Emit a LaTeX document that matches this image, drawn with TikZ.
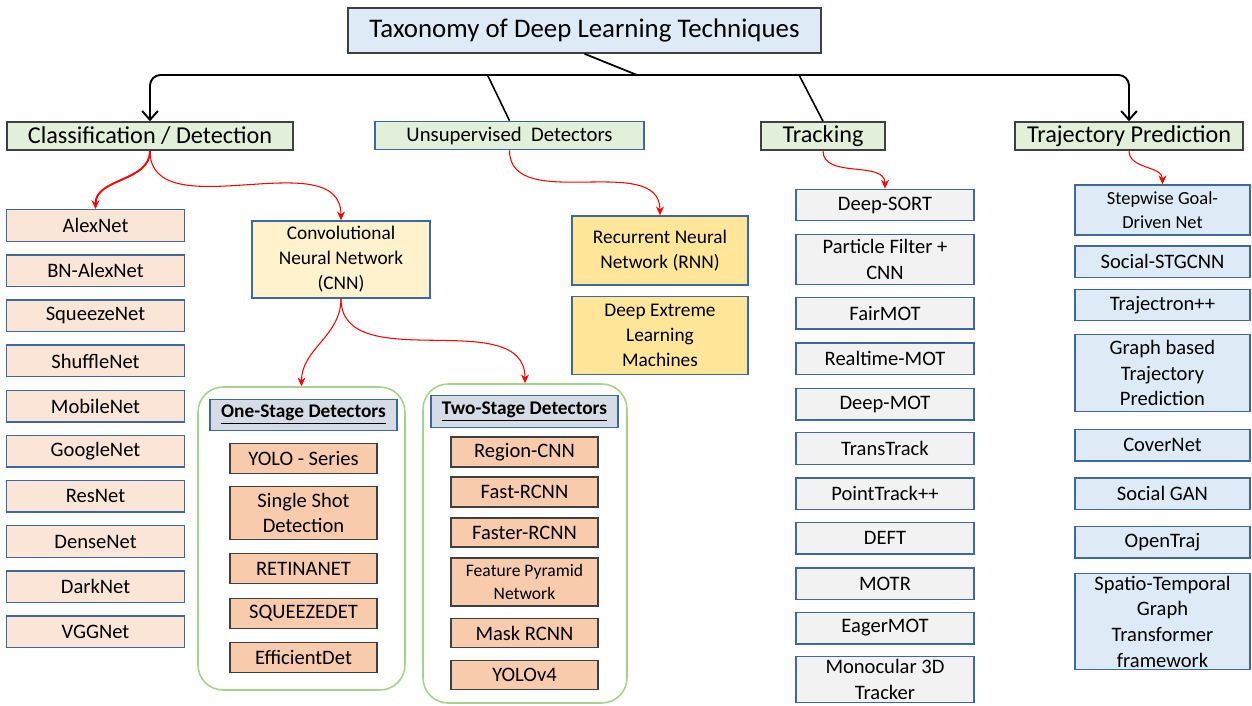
\documentclass[tikz,border=0pt]{standalone}
\usepackage{fontspec}
\setmainfont{Carlito}
\usepackage{xcolor}
\usepackage{tikz}
\usetikzlibrary{positioning, arrows.meta, calc}
\definecolor{titleblue}{HTML}{DEEBF7}
\definecolor{headgreen}{HTML}{E2EFDA}
\definecolor{peach}{HTML}{FBE5D6}
\definecolor{salmon}{HTML}{F8CBAD}
\definecolor{cream}{HTML}{FFF2CC}
\definecolor{gold}{HTML}{FFE699}
\definecolor{greyfill}{HTML}{F2F2F2}
\definecolor{slate}{HTML}{D6DCE5}
\definecolor{edgeblue}{HTML}{41679F}
\definecolor{edgedark}{HTML}{404040}
\definecolor{groupgreen}{HTML}{A9D18E}
\newcommand{\titlefont}{\fontsize{15.3}{18}\selectfont}
\newcommand{\headingfont}{\fontsize{13.8}{16}\selectfont}
\newcommand{\listfont}{\fontsize{11.7}{14.6}\selectfont}
\newcommand{\groupfont}{\fontsize{11}{12}\selectfont\bfseries}

\begin{document}
\begin{tikzpicture}[
    x=0.02cm, y=-0.02cm,
    >={Stealth[length=5pt, width=4.5pt]},
    titlebox/.style={draw=edgedark, fill=titleblue, line width=0.9pt, minimum width=9.46cm, minimum height=0.9cm, font=\titlefont},
    headbox/.style={draw=#1, fill=headgreen, line width=0.9pt, minimum height=0.56cm, inner sep=1pt, font=\headingfont},
    netbox/.style={draw=edgeblue, fill=#1, line width=0.8pt, minimum width=3.56cm, minimum height=0.63cm, align=center, inner sep=1pt, font=\listfont},
    detbox/.style={draw=edgedark, fill=salmon, line width=0.8pt, minimum width=2.94cm, minimum height=0.6cm, align=center, inner sep=1pt, font=\listfont},
    grouptitle/.style={draw=edgeblue, fill=slate, line width=0.8pt, minimum width=3.74cm, minimum height=0.63cm, font=\groupfont},
    groupbox/.style={draw=groupgreen, line width=0.9pt, rounded corners=0.5cm},
    trunk/.style={-{Straight Barb[length=5pt, width=9pt]}, line width=1.1pt, rounded corners=6pt},
    branch/.style={->, red, line width=0.6pt}
]
\useasboundingbox (0,0) rectangle (1252,706);

% Title and bus
\node[titlebox] (title) at (584.5,30.5) {Taxonomy of Deep Learning Techniques};
\coordinate (bus) at (637,75);

% Headings
\node[headbox=edgedark, minimum width=5.72cm] (clf) at (150,136) {Classification / Detection};
\node[headbox=edgeblue, minimum width=5.38cm, font=\fontsize{11.8}{13}\selectfont] (unsup) at (509.5,135.5) {Unsupervised\ \ Detectors};
\node[headbox=edgedark, minimum width=2.48cm] (trk) at (823,136) {Tracking};
\node[headbox=edgedark, minimum width=4.56cm] (traj) at (1129,136) {Trajectory Prediction};

% Classification networks
\node[netbox=peach] (alex) at (95.5,225.5) {AlexNet};
\node[netbox=peach, below=0.245cm of alex] (bnalex) {BN-AlexNet};
\node[netbox=peach, below=0.245cm of bnalex] (squeeze) {SqueezeNet};
\node[netbox=peach, below=0.245cm of squeeze] (shuffle) {ShuffleNet};
\node[netbox=peach, below=0.245cm of shuffle] (mobile) {MobileNet};
\node[netbox=peach, below=0.245cm of mobile] (google) {GoogleNet};
\node[netbox=peach, below=0.245cm of google] (resnet) {ResNet};
\node[netbox=peach, below=0.245cm of resnet] (dense) {DenseNet};
\node[netbox=peach, below=0.245cm of dense] (dark) {DarkNet};
\node[netbox=peach, below=0.245cm of dark] (vgg) {VGGNet};

% CNN and detector groups
\node[netbox=cream, minimum height=1.54cm, font=\fontsize{11}{14.2}\selectfont] (cnn) at (341,259.5) {Convolutional\\Neural Network\\(CNN)};
\node[groupbox, minimum width=4.14cm, minimum height=6.06cm] (onegrp) at (301.5,538.5) {};
\node[groupbox, minimum width=4.08cm, minimum height=6.38cm] (twogrp) at (525,543.5) {};

\node[grouptitle] (onetitle) at (303.5,415) {\underline{One-Stage Detectors}};
\node[detbox, below=0.23cm of onetitle] (yolo) {YOLO - Series};
\node[detbox, below=0.23cm of yolo, minimum height=1.06cm] (ssd) {Single Shot\\Detection};
\node[detbox, below=0.25cm of ssd] (retina) {RETINANET};
\node[detbox, below=0.27cm of retina] (sqzdet) {SQUEEZEDET};
\node[detbox, below=0.25cm of sqzdet] (effdet) {EfficientDet};

\node[grouptitle] (twotitle) at (524.5,411.5) {\underline{Two-Stage Detectors}};
\node[detbox, below=0.17cm of twotitle] (rcnn) {Region-CNN};
\node[detbox, below=0.17cm of rcnn] (fast) {Fast-RCNN};
\node[detbox, below=0.19cm of fast, minimum height=0.58cm] (faster) {Faster-RCNN};
\node[detbox, below=0.19cm of faster, minimum height=0.96cm, font=\fontsize{10}{13}\selectfont] (fpn) {Feature Pyramid\\Network};
\node[detbox, below=0.23cm of fpn, minimum height=0.58cm] (mask) {Mask RCNN};
\node[detbox, below=0.23cm of mask, minimum height=0.58cm] (yolofour) {YOLOv4};

% Unsupervised
\node[netbox=gold, minimum width=3.52cm, minimum height=1.38cm, font=\fontsize{11}{14.2}\selectfont] (rnn) at (660,250.5) {Recurrent Neural\\Network (RNN)};
\node[netbox=gold, minimum width=3.52cm, minimum height=1.56cm, font=\fontsize{11}{14.2}\selectfont, below=0.2cm of rnn] (delm) {Deep Extreme\\Learning\\Machines};

% Tracking
\node[netbox=greyfill] (dsort) at (885,205) {Deep-SORT};
\node[netbox=greyfill, below=0.25cm of dsort, minimum height=1.0cm] (pfilter) {Particle Filter +\\CNN};
\node[netbox=greyfill, below=0.23cm of pfilter] (fair) {FairMOT};
\node[netbox=greyfill, below=0.25cm of fair] (rtmot) {Realtime-MOT};
\node[netbox=greyfill, below=0.25cm of rtmot] (deepmot) {Deep-MOT};
\node[netbox=greyfill, below=0.23cm of deepmot] (trans) {TransTrack};
\node[netbox=greyfill, below=0.25cm of trans] (point) {PointTrack++};
\node[netbox=greyfill, below=0.23cm of point] (deft) {DEFT};
\node[netbox=greyfill, below=0.25cm of deft] (motr) {MOTR};
\node[netbox=greyfill, below=0.23cm of motr] (eager) {EagerMOT};
\node[netbox=greyfill, below=0.23cm of eager, minimum height=0.92cm, inner sep=0pt] (mono) {Monocular 3D\\Tracker};

% Trajectory prediction
\node[netbox=titleblue, minimum width=3.5cm, minimum height=1.0cm, font=\fontsize{10.5}{13.5}\selectfont] (sgd) at (1162.5,210) {Stepwise Goal-\\Driven Net};
\node[netbox=titleblue, minimum width=3.5cm, below=0.19cm of sgd] (stgcnn) {Social-STGCNN};
\node[netbox=titleblue, minimum width=3.5cm, below=0.21cm of stgcnn] (tron) {Trajectron++};
\node[netbox=titleblue, minimum width=3.5cm, minimum height=1.54cm, below=0.25cm of tron] (gbtp) {Graph based\\Trajectory\\Prediction};
\node[netbox=titleblue, minimum width=3.5cm, below=0.33cm of gbtp] (cover) {CoverNet};
\node[netbox=titleblue, minimum width=3.5cm, below=0.31cm of cover] (sgan) {Social GAN};
\node[netbox=titleblue, minimum width=3.5cm, below=0.31cm of sgan] (otraj) {OpenTraj};
\node[netbox=titleblue, minimum width=3.5cm, minimum height=1.92cm, inner sep=0pt, below=0.29cm of otraj] (stgt) {Spatio-Temporal\\Graph\\Transformer\\framework};

% Black connections
\draw[line width=1pt] (title.south) -- (bus);
\draw[trunk] (bus) -| (clf.north);
\draw[trunk] (bus) -| (traj.north);
\draw[line width=0.9pt] ($(unsup.north|-bus)+(-22,0)$) -- (unsup.north);
\draw[line width=0.9pt] ($(trk.north|-bus)+(-24,0)$) -- (trk.north);

% Red branches
\draw[branch, line width=1.1pt] (clf.south) to[out=-90,in=90] (alex.north);
\draw[branch] (clf.south) to[out=-90,in=90] (cnn.north);
\draw[branch] (unsup.south) to[out=-90,in=90] (rnn.north);
\draw[branch] (trk.south) to[out=-90,in=90] (dsort.north);
\draw[branch] (traj.south) to[out=-90,in=90] (sgd.north);
\draw[branch] (cnn.south) to[out=-90,in=90] (onegrp.north);
\draw[branch] (cnn.south) to[out=-90,in=90] (twogrp.north);

\end{tikzpicture}
\end{document}
